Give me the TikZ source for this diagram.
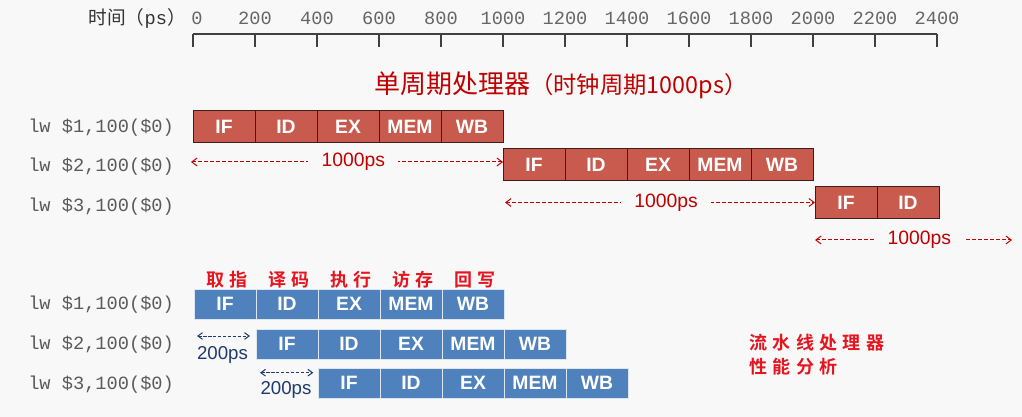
\documentclass[tikz,border=0pt]{standalone}
\usepackage{fontspec}
\setmainfont{Liberation Sans}
\setmonofont{Liberation Mono}
\newfontfamily\cjk{Noto Sans CJK SC}[BoldFont={Noto Sans CJK SC Bold}]
\newfontfamily\cjkwide{Noto Sans CJK SC}[BoldFont={Noto Sans CJK SC Bold},LetterSpace=30]
\usetikzlibrary{arrows.meta,positioning}
\definecolor{PageBg}{HTML}{F8F8F8}
\definecolor{CellRed}{HTML}{C85B4E}
\definecolor{EdgeRed}{HTML}{3C1E1A}
\definecolor{TextRed}{HTML}{C00000}
\definecolor{CellBlue}{HTML}{4F81BD}
\definecolor{EdgeBlue}{HTML}{DCE6F2}
\definecolor{TextNavy}{HTML}{1F3A6E}
\definecolor{LabelRed}{HTML}{E5141E}
\definecolor{InsGray}{HTML}{5A5A5A}

\tikzset{
  stagecell/.style={minimum width=46.5pt, inner sep=0pt, outer sep=0pt,
    text=white, font=\fontsize{14.5}{16}\selectfont\bfseries},
  redcell/.style={stagecell, draw=EdgeRed, line width=0.75pt, fill=CellRed, minimum height=24pt},
  bluecell/.style={stagecell, draw=EdgeBlue, line width=0.6pt, fill=CellBlue, minimum height=22.5pt},
  instr/.style={anchor=west, inner sep=0pt, text=InsGray, font=\ttfamily\fontsize{14}{16}\selectfont},
  ticklab/.style={inner sep=0pt, text=black!60, font=\ttfamily\fontsize{14}{16}\selectfont},
  redspan/.style={{Straight Barb[length=4pt,width=6pt]}-{Straight Barb[length=4pt,width=6pt]},
    TextRed, line width=0.75pt, dash pattern=on 3pt off 1.5pt},
  bluespan/.style={{Straight Barb[length=3.5pt,width=5pt]}-{Straight Barb[length=3.5pt,width=5pt]},
    TextNavy, line width=0.75pt, dash pattern=on 2.5pt off 1.2pt},
  spanlab/.style={fill=PageBg, inner xsep=10pt, inner ysep=1pt, text=TextRed,
    font=\fontsize{14.5}{16}\selectfont},
  navylab/.style={inner sep=0pt, text=TextNavy, font=\fontsize{14}{16}\selectfont},
  zhlab/.style={inner sep=0pt, text=LabelRed, font=\cjkwide\bfseries\fontsize{13.5}{15}\selectfont}
}

\begin{document}
\begin{tikzpicture}[x=0.75pt,y=-0.75pt]
  \fill[PageBg] (0,0) rectangle (1022,417);
  \useasboundingbox (0,0) rectangle (1022,417);

  % time axis
  \node[ticklab, anchor=east, text=black!80] (tlabel) at (186,18)
    {{\cjk 时间（}ps{\cjk ）}};
  \draw[black!75, line width=0.8pt] (193,34) -- (937,34);
  \foreach \k in {0,...,12} {
    \pgfmathtruncatemacro\ps{200*\k}
    \draw[black!75, line width=0.8pt] (193+62*\k,34) -- ++(0,13);
    \ifnum\k=0
      \node[ticklab, anchor=west] (t\k) at (191,18) {\ps};
    \else
      \node[ticklab] (t\k) at (193+62*\k,18) {\ps};
    \fi
  }

  % single cycle
  \node[anchor=west, inner sep=0pt, text=TextRed] (title) at (374,85)
    {\cjk\fontsize{19.5}{22}\selectfont 单周期处理器{\fontsize{17.5}{20}\selectfont（时钟周期1000ps）}};

  \node[instr] (i1) at (28,128) {lw \$1,100(\$0)};
  \node[instr] (i2) at (28,167) {lw \$2,100(\$0)};
  \node[instr] (i3) at (28,207) {lw \$3,100(\$0)};

  \foreach \st [count=\i] in {IF,ID,EX,MEM,WB} {
    \node[redcell] (r1-\i) at (162+62*\i,126.5) {\st};
    \node[redcell] (r2-\i) at (472+62*\i,165) {\st};
  }
  \foreach \st [count=\i] in {IF,ID}
    \node[redcell] (r3-\i) at (784+62*\i,202.5) {\st};

  \coordinate (sp1a) at (191,162);
  \coordinate (sp2a) at (505,202.5);
  \coordinate (sp3b) at (1012,240);
  \draw[redspan] (sp1a) -- (r2-1.west |- sp1a) node[spanlab, pos=0.52] (sl1) {1000ps};
  \draw[redspan] (sp2a) -- (r3-1.west) node[spanlab, pos=0.52] (sl2) {1000ps};
  \draw[redspan] (r3-1.west |- sp3b) -- (sp3b) node[spanlab, pos=0.53] (sl3) {1000ps};

  % pipeline
  \node[instr] (p1) at (28,305) {lw \$1,100(\$0)};
  \node[instr] (p2) at (28,345) {lw \$2,100(\$0)};
  \node[instr] (p3) at (28,385) {lw \$3,100(\$0)};

  \foreach \st/\zh [count=\i] in {IF/取指,ID/译码,EX/执行,MEM/访存,WB/回写} {
    \node[bluecell] (b1-\i) at (163+62*\i,304.3) {\st};
    \node[bluecell] (b2-\i) at (225+62*\i,344) {\st};
    \node[bluecell] (b3-\i) at (287+62*\i,383) {\st};
    \node[zhlab] (zh-\i) at (165+62*\i,280) {\zh};
  }

  \coordinate (bp1a) at (197,336);
  \coordinate (bp2a) at (260,372.7);
  \draw[bluespan, shorten >=4.5pt] (bp1a) -- (b2-1.west |- bp1a);
  \draw[bluespan, shorten >=3.5pt] (bp2a) -- (b3-1.west |- bp2a);
  \node[navylab] (bl1) at (222.5,354.5) {200ps};
  \node[navylab] (bl2) at (286,390) {200ps};

  \node[zhlab, anchor=west] (note1) at (749,342.5) {流水线处理器};
  \node[zhlab, anchor=west] (note2) at (749,367) {性能分析};
\end{tikzpicture}
\end{document}
